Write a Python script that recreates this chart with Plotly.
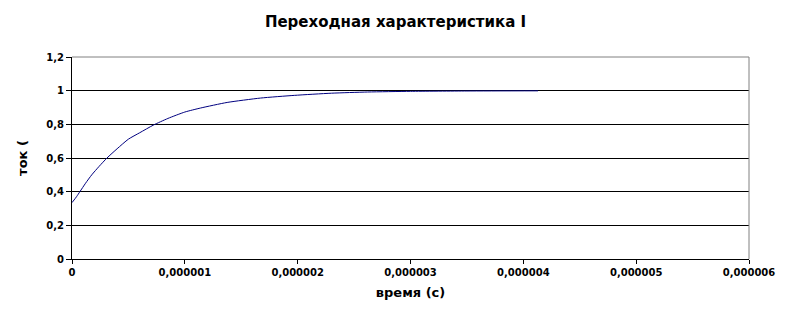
import plotly.graph_objects as go

# time (s) and current values
time_s = [0, 0.04e-6, 0.07e-6, 0.12e-6, 0.175e-6, 0.24e-6, 0.31e-6, 0.40e-6, 0.50e-6,
          0.60e-6, 0.72e-6, 0.85e-6, 1.0e-6, 1.14e-6, 1.375e-6, 1.67e-6, 1.97e-6,
          2.3e-6, 2.62e-6, 3.0e-6, 3.5e-6, 4.13e-6]
current = [0.335, 0.37, 0.40, 0.45, 0.50, 0.55, 0.60, 0.655, 0.712,
           0.75, 0.795, 0.835, 0.873, 0.897, 0.930, 0.956, 0.972,
           0.985, 0.992, 0.996, 0.998, 0.999]

x_tickvals = [0, 1e-6, 2e-6, 3e-6, 4e-6, 5e-6, 6e-6]
x_ticktext = ["0", "0,000001", "0,000002", "0,000003", "0,000004", "0,000005", "0,000006"]
y_tickvals = [0, 0.2, 0.4, 0.6, 0.8, 1.0, 1.2]
y_ticktext = ["0", "0,2", "0,4", "0,6", "0,8", "1", "1,2"]

title_text = "Переходная характеристика I"
x_title = "время (с)"
y_title = "ток ("

font_family = "DejaVu Sans, Verdana, sans-serif"

fig = go.Figure()
fig.add_trace(go.Scatter(x=time_s, y=current, mode="lines",
                         line=dict(color="#000080", width=1, shape="spline", smoothing=0.6),
                         showlegend=False, hoverinfo="skip"))

fig.update_layout(
    width=791, height=314,
    margin=dict(l=72, r=42, t=57, b=55),
    paper_bgcolor="white", plot_bgcolor="white",
    title=dict(text="<b>" + title_text + "</b>", x=0.5, xanchor="center",
               y=1 - 22 / 314, yanchor="middle",
               font=dict(family=font_family, size=15, color="black")),
    font=dict(family=font_family, size=10, color="black"),
    xaxis=dict(range=[0, 6e-6], tickvals=x_tickvals, ticktext=x_ticktext,
               showgrid=False, zeroline=False, showline=True, linecolor="black", linewidth=1,
               ticks="outside", ticklen=4, tickcolor="black",
               tickfont=dict(family=font_family, size=10, color="black", weight="bold"),
               title=dict(text="<b>" + x_title + "</b>", standoff=10,
                          font=dict(family=font_family, size=13, color="black"))),
    yaxis=dict(range=[0, 1.2], tickvals=y_tickvals, ticktext=y_ticktext,
               showgrid=True, gridcolor="black", gridwidth=1,
               zeroline=False, showline=True, linecolor="black", linewidth=1,
               ticks="outside", ticklen=5, tickcolor="black",
               tickfont=dict(family=font_family, size=10, color="black", weight="bold"),
               title=dict(text="<b>" + y_title + "</b>", standoff=15,
                          font=dict(family=font_family, size=13, color="black"))),
    shapes=[
        dict(type="line", xref="paper", yref="paper", x0=0, x1=1, y0=1, y1=1,
             line=dict(color="#808080", width=1), layer="above"),
        dict(type="line", xref="paper", yref="paper", x0=1, x1=1, y0=0, y1=1,
             line=dict(color="#808080", width=1), layer="above"),
    ],
)

fig.write_html("out.html")
